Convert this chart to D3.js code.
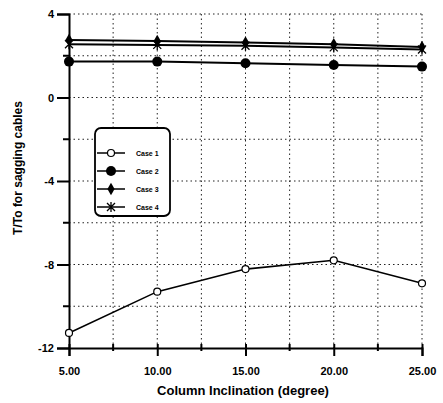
<!DOCTYPE html>
<html><head><meta charset="utf-8">
<script src="https://cdn.jsdelivr.net/npm/d3@7"></script>
<style>body{margin:0;background:#fff}svg{display:block}</style>
</head><body>
<svg id="chart" width="443" height="403"></svg>
<script>
// Column inclination (degrees)
const inclination = [5, 10, 15, 20, 25];
// T/To for each case
const case1 = [-11.28, -9.3, -8.22, -7.8, -8.9];
const case2 = [1.72, 1.72, 1.64, 1.56, 1.48];
const case3 = [2.76, 2.71, 2.64, 2.55, 2.42];
const case4 = [2.55, 2.52, 2.48, 2.4, 2.3];
const seriesNames = ["Case 1", "Case 2", "Case 3", "Case 4"];
const xTickLabels = ["5.00", "10.00", "15.00", "20.00", "25.00"];
const yTickLabels = ["4", "0", "-4", "-8", "-12"];

const svg = d3.select("#chart");
const x = d3.scaleLinear().domain([5, 25]).range([69, 422]);
const y = d3.scaleLinear().domain([-12, 4]).range([348, 14]);
const font = "'Liberation Sans', Arial, sans-serif";

// dotted grid
const gx = d3.range(7.5, 25.01, 2.5);
const gy = d3.range(-10, 4.01, 2);
svg.append("g").selectAll("line").data(gx).join("line")
  .attr("x1", d => x(d)).attr("x2", d => x(d)).attr("y1", y(4)).attr("y2", y(-12))
  .attr("stroke", "#222").attr("stroke-width", 1).attr("stroke-dasharray", "1.5,3");
svg.append("g").selectAll("line").data(gy).join("line")
  .attr("x1", x(5)).attr("x2", x(25)).attr("y1", d => y(d)).attr("y2", d => y(d))
  .attr("stroke", "#222").attr("stroke-width", 1).attr("stroke-dasharray", "1.5,3");

// axes
const yAxis = d3.axisLeft(y).tickValues([4, 0, -4, -8, -12])
  .tickFormat((d, i) => yTickLabels[i]).tickSize(12).tickPadding(3);
const gY = svg.append("g").attr("transform", `translate(${x(5)},0)`).call(yAxis);
gY.select(".domain").attr("stroke-width", 2);
gY.selectAll(".tick line").attr("stroke-width", 2);
gY.selectAll("text").attr("font-family", font).attr("font-weight", "bold").attr("font-size", 11);
svg.append("g").selectAll("line").data([2, -2, -6, -10]).join("line")
  .attr("x1", x(5) - 6).attr("x2", x(5)).attr("y1", d => y(d)).attr("y2", d => y(d))
  .attr("stroke", "#000").attr("stroke-width", 2);

const xAxis = d3.axisBottom(x).tickValues(inclination)
  .tickFormat((d, i) => xTickLabels[i]).tickSize(8).tickPadding(11);
const gX = svg.append("g").attr("transform", `translate(0,${y(-12)})`).call(xAxis);
gX.select(".domain").attr("stroke-width", 2);
gX.selectAll(".tick line").attr("stroke-width", 2).attr("y1", -4);
gX.selectAll("text").attr("font-family", font).attr("font-weight", "bold").attr("font-size", 11);
svg.append("g").selectAll("line").data([7.5, 12.5, 17.5, 22.5]).join("line")
  .attr("x1", d => x(d)).attr("x2", d => x(d)).attr("y1", y(-12) - 4).attr("y2", y(-12) + 3)
  .attr("stroke", "#000").attr("stroke-width", 2);

// axis titles
svg.append("text").attr("x", 243).attr("y", 395).attr("text-anchor", "middle")
  .attr("font-family", font).attr("font-size", 13).attr("font-weight", "bold")
  .text("Column Inclination (degree)");
svg.append("text").attr("transform", `translate(22,168) rotate(-90)`).attr("text-anchor", "middle")
  .attr("font-family", font).attr("font-size", 12).attr("font-weight", "bold")
  .text("T/To for sagging cables");

// series
const line = d3.line().x((d, i) => x(inclination[i])).y(d => y(d));
const all = [case1, case2, case3, case4];
const markers = [
  (g) => g.append("circle").attr("r", 3.5).attr("fill", "#fff").attr("stroke", "#000").attr("stroke-width", 1.2),
  (g) => g.append("circle").attr("r", 5).attr("fill", "#000"),
  (g) => g.append("path").attr("d", d3.symbol(d3.symbolDiamond, 45)()).attr("fill", "#000"),
  (g) => g.append("path").attr("d", "M-4,-4L4,4M-4,4L4,-4M0,-5V5").attr("stroke", "#000").attr("stroke-width", 1.3)
];
all.forEach((vals, k) => {
  svg.append("path").datum(vals).attr("d", line).attr("fill", "none")
    .attr("stroke", "#000").attr("stroke-width", k === 0 ? 1.6 : 2);
  vals.forEach((v, i) => {
    const g = svg.append("g").attr("transform", `translate(${x(inclination[i])},${y(v)})`);
    markers[k](g);
  });
});

// legend
const lg = svg.append("g");
lg.append("rect").attr("x", 95).attr("y", 128).attr("width", 75).attr("height", 88).attr("rx", 6)
  .attr("fill", "#fff").attr("stroke", "#000").attr("stroke-width", 1.8);
seriesNames.forEach((name, k) => {
  const yy = 153 + k * 18;
  lg.append("line").attr("x1", 97).attr("x2", 125).attr("y1", yy).attr("y2", yy)
    .attr("stroke", "#000").attr("stroke-width", 1.5);
  const g = lg.append("g").attr("transform", `translate(111,${yy})`);
  markers[k](g);
  lg.append("text").attr("x", 136).attr("y", yy + 3).attr("font-family", font)
    .attr("font-size", 7).attr("font-weight", "bold").text(name);
});
</script>
</body></html>
